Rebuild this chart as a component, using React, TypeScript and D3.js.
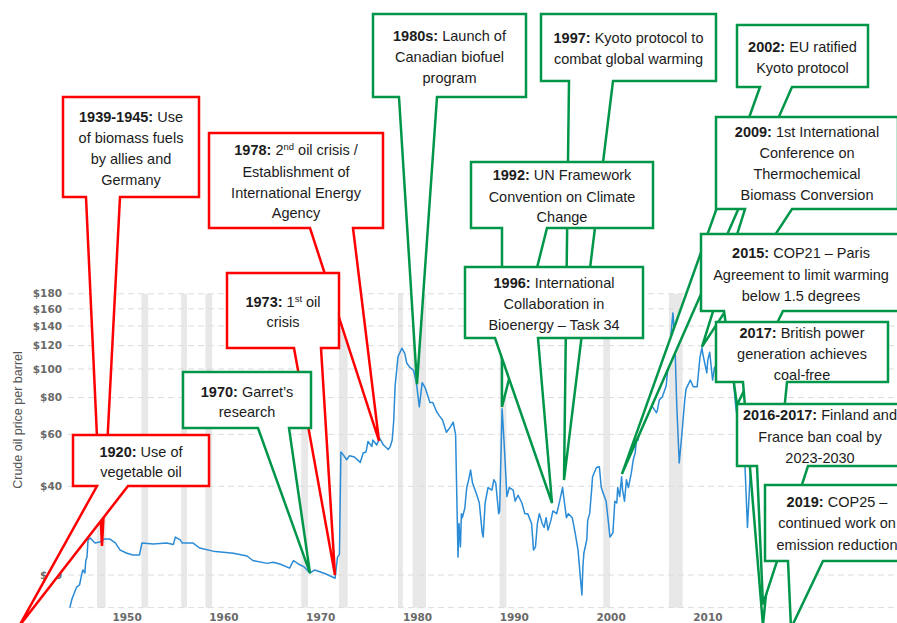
import React from 'react';
import * as d3 from 'd3';

const W = 897;
const H = 623;

// Inflation-adjusted crude oil price (USD per barrel)
const priceYears = [
  1946.1, 1946.3, 1946.6, 1946.8, 1947.1, 1947.35, 1947.45, 1947.65, 1947.75, 1947.87, 1947.98, 1948.2,
  1948.7, 1949.2, 1949.7, 1950.2, 1950.8, 1951.3, 1952.0, 1952.6, 1953.3, 1953.55, 1954.7, 1956.1,
  1956.8, 1957.0, 1957.5, 1957.7, 1958.8, 1959.5, 1960.9, 1963.0, 1964.4, 1965.0, 1966.5, 1967.1,
  1967.8, 1968.8, 1969.2, 1969.7, 1970.3, 1970.9, 1971.4, 1972.5, 1973.5, 1973.75, 1973.95, 1974.1,
  1974.2, 1974.7, 1975.0, 1975.5, 1976.1, 1976.4, 1976.7, 1976.9, 1977.3, 1977.4, 1977.8, 1978.1,
  1978.5, 1979.0, 1979.2, 1979.4, 1979.55, 1979.7, 1980.0, 1980.4, 1980.7, 1980.9, 1981.2, 1981.6,
  1981.9, 1982.2, 1982.5, 1982.8, 1983.3, 1983.6, 1984.0, 1984.3, 1984.6, 1985.0, 1985.4, 1985.7,
  1985.95, 1986.2, 1986.3, 1986.45, 1986.55, 1986.65, 1986.9, 1987.1, 1987.3, 1987.5, 1987.7, 1988.2,
  1988.4, 1988.7, 1988.8, 1989.0, 1989.3, 1989.7, 1989.9, 1990.1, 1990.4, 1990.5, 1990.75, 1990.8,
  1991.0, 1991.25, 1991.5, 1991.9, 1992.1, 1992.4, 1992.8, 1993.1, 1993.4, 1993.8, 1994.0, 1994.2,
  1994.4, 1994.6, 1994.9, 1995.1, 1995.3, 1995.5, 1995.8, 1996.0, 1996.4, 1996.7, 1997.0, 1997.2,
  1997.4, 1997.6, 1998.0, 1998.3, 1998.6, 1998.8, 1999.0, 1999.1, 1999.2, 1999.5, 1999.6, 1999.8,
  2000.0, 2000.1, 2000.5, 2000.8, 2001.0, 2001.2, 2001.5, 2001.9, 2002.2, 2002.4, 2002.6, 2002.7,
  2002.9, 2003.1, 2003.2, 2003.4, 2003.6, 2003.8, 2004.1, 2004.3, 2004.5, 2004.7, 2004.8, 2005.0,
  2005.2, 2005.4, 2005.7, 2006.0, 2006.3, 2006.7, 2006.8, 2007.0, 2007.3, 2007.7, 2008.0, 2008.4,
  2008.6, 2008.8, 2009.05, 2009.3, 2009.6, 2009.75, 2010.2, 2010.5, 2010.9, 2011.2, 2011.4, 2011.5,
  2011.9, 2012.0, 2012.2, 2012.5, 2012.7, 2013.2, 2013.6, 2014.0, 2014.5, 2014.9, 2015.3, 2015.6,
  2015.85, 2016.1, 2016.4, 2016.7, 2017.0, 2017.5, 2018.0, 2018.8, 2019.0, 2019.5, 2019.9,
];
const priceValues = [
  15.5, 16.5, 17.5, 18.2, 18.5, 20.3, 20.8, 20.3, 22.4, 23.0, 26.3, 26.7,
  25.7, 25.9, 26.5, 26.5, 25.7, 24.3, 23.7, 23.4, 23.4, 25.7, 25.5, 25.7,
  25.4, 26.9, 26.3, 25.7, 25.7, 24.7, 24.1, 23.7, 23.2, 22.4, 21.9, 22.1,
  21.8, 21.1, 22.4, 21.8, 21.3, 20.3, 20.8, 20.2, 19.5, 23.0, 23.5, 52.3,
  51.9, 49.2, 50.8, 50.3, 48.2, 51.9, 52.3, 56.8, 54.6, 57.4, 55.2, 58.3,
  55.2, 53.3, 54.6, 57.4, 66, 87.5, 110, 117.6, 113, 104.8, 101.5, 99,
  89.9, 74.4, 89.9, 86.5, 76.9, 76.9, 71.5, 69.2, 67.1, 61.0, 63.5, 66,
  60, 23.0, 29.9, 24.9, 32.3, 31.3, 33.7, 39.6, 42.1, 45.4, 41.0, 36.9,
  35.1, 27.8, 26.9, 35.1, 39.6, 38.8, 42.1, 41.0, 32.3, 33.0, 73.3, 69.2,
  53.3, 36.9, 39.6, 38.8, 35.6, 37.3, 35.1, 32.3, 32.3, 29.9, 24.3, 24.9,
  29.9, 32.3, 29.9, 29.0, 31.3, 28.4, 30.7, 33.0, 32.3, 35.6, 39.6, 35.1,
  31.3, 32.3, 31.3, 27.8, 24.3, 20.3, 17.1, 21.3, 23.7, 26.3, 30.7, 32.3,
  38.8, 43.1, 46.3, 46.6, 39.6, 37.9, 35.6, 26.9, 27.8, 35.6, 35.1, 39.6,
  36.9, 43.1, 38.8, 35.6, 42.1, 39.6, 44.3, 49.2, 51.9, 60.6, 57.4, 63.5,
  67.1, 65.5, 71, 78.6, 74.4, 71, 72.6, 78.6, 80.4, 87.5, 110, 155,
  125, 75, 48, 58.8, 76.9, 85.4, 91.7, 87, 87, 110, 118, 112,
  97, 107, 114, 91.7, 101.5, 100, 106, 96, 104, 74, 60, 52,
  46.5, 29, 45, 49, 55, 50, 64, 72, 52, 60, 58,
];

// US recessions (grey bands)
const recessionStarts = [1948.9, 1953.5, 1957.6, 1960.1, 1970.0, 1973.9, 1980.0, 1981.5, 1990.5, 2001.2, 2008.0];
const recessionEnds = [1949.8, 1954.2, 1958.2, 1960.8, 1970.7, 1974.8, 1980.5, 1982.9, 1991.2, 2001.9, 2009.4];

const yTicks = [20, 40, 60, 80, 100, 120, 140, 160, 180];
const yFloor = 15.5;
const xTicks = [1950, 1960, 1970, 1980, 1990, 2000, 2010];

const RED = '#ff0000';
const GREEN = '#00964a';
const BLUE = '#2a8bd6';

type Seg = { t: string; b?: boolean; sup?: boolean };
type Callout = {
  color: string;
  box: [number, number, number, number];
  base: [number, number];
  apex: [number, number]; // [year, price]
  lineY: number[];
  lines: Seg[][];
};

const callouts: Callout[] = [
  {
    color: RED, box: [63, 97, 199, 197], base: [86, 120], apex: [1949.42, 25.1], lineY: [117, 138, 159, 180],
    lines: [[{ t: '1939-1945:', b: true }, { t: ' Use' }], [{ t: 'of biomass fuels' }], [{ t: 'by allies and' }], [{ t: 'Germany' }]],
  },
  {
    color: RED, box: [73, 435, 209, 486], base: [97, 128], apex: [1940.85, 13.4], lineY: [452, 472],
    lines: [[{ t: '1920:', b: true }, { t: ' Use of' }], [{ t: 'vegetable oil' }]],
  },
  {
    color: RED, box: [209, 133, 383, 228], base: [310, 353], apex: [1978.04, 57.0], lineY: [150, 172, 193, 213],
    lines: [
      [{ t: '1978:', b: true }, { t: ' 2' }, { t: 'nd', sup: true }, { t: ' oil crisis /' }],
      [{ t: 'Establishment of' }], [{ t: 'International Energy' }], [{ t: 'Agency' }],
    ],
  },
  {
    color: RED, box: [227, 273, 339, 348], base: [294, 321], apex: [1973.49, 20.0], lineY: [302, 322],
    lines: [[{ t: '1973:', b: true }, { t: ' 1' }, { t: 'st', sup: true }, { t: ' oil' }], [{ t: 'crisis' }]],
  },
  {
    color: GREEN, box: [183, 372, 311, 428], base: [258, 289], apex: [1970.91, 20.3], lineY: [392, 412],
    lines: [[{ t: '1970:', b: true }, { t: ' Garret\u2019s' }], [{ t: 'research' }]],
  },
  {
    color: GREEN, box: [373, 14, 526, 97], base: [399, 437], apex: [1981.96, 88.9], lineY: [36, 57, 78],
    lines: [[{ t: '1980s:', b: true }, { t: ' Launch of' }], [{ t: 'Canadian biofuel' }], [{ t: 'program' }]],
  },
  {
    color: GREEN, box: [541, 14, 716, 81], base: [569, 613], apex: [1997.15, 42.0], lineY: [38, 59],
    lines: [[{ t: '1997:', b: true }, { t: ' Kyoto protocol to' }], [{ t: 'combat global warming' }]],
  },
  {
    color: GREEN, box: [471, 162, 653, 228], base: [502, 547], apex: [1990.74, 74.3], lineY: [175, 197, 217],
    lines: [[{ t: '1992:', b: true }, { t: ' UN Framework' }], [{ t: 'Convention on Climate' }], [{ t: 'Change' }]],
  },
  {
    color: GREEN, box: [465, 267, 643, 338], base: [495, 538], apex: [1995.91, 35.1], lineY: [283, 304, 325],
    lines: [[{ t: '1996:', b: true }, { t: ' International' }], [{ t: 'Collaboration in' }], [{ t: 'Bioenergy \u2013 Task 34' }]],
  },
  {
    color: GREEN, box: [737, 25, 868, 87], base: [760, 792], apex: [2003.13, 44.0], lineY: [47, 68],
    lines: [[{ t: '2002:', b: true }, { t: ' EU ratified' }], [{ t: 'Kyoto protocol' }]],
  },
  {
    color: GREEN, box: [716, 117, 898, 209], base: [745, 792], apex: [2011.4, 118.8], lineY: [132, 153, 174, 195],
    lines: [[{ t: '2009:', b: true }, { t: ' 1st International' }], [{ t: 'Conference on' }], [{ t: 'Thermochemical' }], [{ t: 'Biomass Conversion' }]],
  },
  {
    color: GREEN, box: [701, 234, 901, 311], base: [724, 783], apex: [2015.02, 75.4], lineY: [253, 275, 296],
    lines: [[{ t: '2015:', b: true }, { t: ' COP21 \u2013 Paris' }], [{ t: 'Agreement to limit warming' }], [{ t: 'below 1.5 degrees' }]],
  },
  {
    color: GREEN, box: [716, 322, 888, 382], base: [743, 787], apex: [2017.7, 13.5], lineY: [333, 354, 375],
    lines: [[{ t: '2017:', b: true }, { t: ' British power' }], [{ t: 'generation achieves' }], [{ t: 'coal-free' }]],
  },
  {
    color: GREEN, box: [737, 404, 903, 466], base: [757, 808], apex: [2017.7, 15.9], lineY: [415, 437, 458],
    lines: [[{ t: '2016-2017:', b: true }, { t: ' Finland and' }], [{ t: 'France ban coal by' }], [{ t: '2023-2030' }]],
  },
  {
    color: GREEN, box: [765, 485, 909, 561], base: [788, 823], apex: [2020.6, 13.2], lineY: [502, 523, 545],
    lines: [[{ t: '2019:', b: true }, { t: ' COP25 \u2013' }], [{ t: 'continued work on' }], [{ t: 'emission reduction' }]],
  },
];

const FONT = "'Liberation Sans', Arial, sans-serif";
const TICK_FONT = "'DejaVu Sans', Verdana, sans-serif";

export default function App() {
  const x = d3.scaleLinear().domain([1950, 2010]).range([107.6, 688.4]);
  const y = d3.scaleLog().domain([20, 180]).range([575, 575 - 128 * Math.log(9)]);

  const lineGen = d3
    .line<number>()
    .x((_, i) => x(priceYears[i]))
    .y((v) => y(v));
  const pricePath = lineGen(priceValues) || '';

  const gridValues = [yFloor, ...yTicks];
  const bandTop = y(180);
  const bandBottom = y(yFloor);

  const calloutPath = (c: Callout) => {
    const [x0, y0, x1, y1] = c.box;
    const ax = x(c.apex[0]);
    const ay = y(c.apex[1]);
    const p = d3.path();
    p.moveTo(x0, y0);
    p.lineTo(x1, y0);
    p.lineTo(x1, y1);
    p.lineTo(c.base[1], y1);
    p.lineTo(ax, ay);
    p.lineTo(c.base[0], y1);
    p.lineTo(x0, y1);
    p.closePath();
    return p.toString();
  };

  return (
    <svg
      width={W}
      height={H}
      viewBox={`0 0 ${W} ${H}`}
      style={{ position: 'absolute', left: 0, top: 0, background: '#fff' }}
    >
      <rect x={0} y={0} width={W} height={H} fill="#fff" />
      {/* recession bands */}
      {recessionStarts.map((s, i) => (
        <rect
          key={`r${i}`}
          x={x(s)}
          y={bandTop}
          width={x(recessionEnds[i]) - x(s)}
          height={bandBottom - bandTop}
          fill="#e8e8e8"
        />
      ))}
      {/* grid lines */}
      {gridValues.map((v, i) => (
        <line
          key={`g${i}`}
          x1={68}
          x2={W}
          y1={y(v)}
          y2={y(v)}
          stroke="#dcdcdc"
          strokeWidth={1}
          strokeDasharray="6,4"
        />
      ))}
      {/* y tick labels */}
      {yTicks.map((v) => (
        <text
          key={`yt${v}`}
          x={62}
          y={y(v)}
          dy="0.35em"
          textAnchor="end"
          fontFamily={TICK_FONT}
          fontWeight="bold"
          fontSize={10.5}
          fill="#6a6a6a"
        >
          {`$${v}`}
        </text>
      ))}
      {/* x tick labels */}
      {xTicks.map((v) => (
        <text
          key={`xt${v}`}
          x={x(v) + 19.5}
          y={621}
          textAnchor="middle"
          fontFamily={TICK_FONT}
          fontWeight="bold"
          fontSize={10.5}
          fill="#6a6a6a"
        >
          {v}
        </text>
      ))}
      {/* y axis title */}
      <text
        transform="translate(22,420) rotate(-90)"
        textAnchor="middle"
        fontFamily={FONT}
        fontSize={12.5}
        fill="#555"
      >
        Crude oil price per barrel
      </text>
      {/* price line */}
      <path d={pricePath} fill="none" stroke={BLUE} strokeWidth={1.5} strokeLinejoin="round" />
      {/* callouts */}
      {callouts.map((c, ci) => {
        const cx = (c.box[0] + c.box[2]) / 2;
        return (
          <g key={`c${ci}`}>
            <path d={calloutPath(c)} fill="#fff" stroke={c.color} strokeWidth={2.5} strokeLinejoin="miter" />
            {c.lines.map((segs, li) => {
              let prevSup = false;
              return (
                <text
                  key={`l${li}`}
                  x={cx}
                  y={c.lineY[li] + 5}
                  textAnchor="middle"
                  fontFamily={FONT}
                  fontSize={14.5}
                  fill="#1c1c1c"
                >
                  {segs.map((s, si) => {
                    let dy: number | undefined;
                    if (s.sup) dy = -5.5;
                    else if (prevSup) dy = 5.5;
                    prevSup = !!s.sup;
                    return (
                      <tspan
                        key={si}
                        dy={dy}
                        fontWeight={s.b ? 'bold' : 'normal'}
                        fontSize={s.sup ? 9.5 : undefined}
                      >
                        {s.t}
                      </tspan>
                    );
                  })}
                </text>
              );
            })}
          </g>
        );
      })}
    </svg>
  );
}
